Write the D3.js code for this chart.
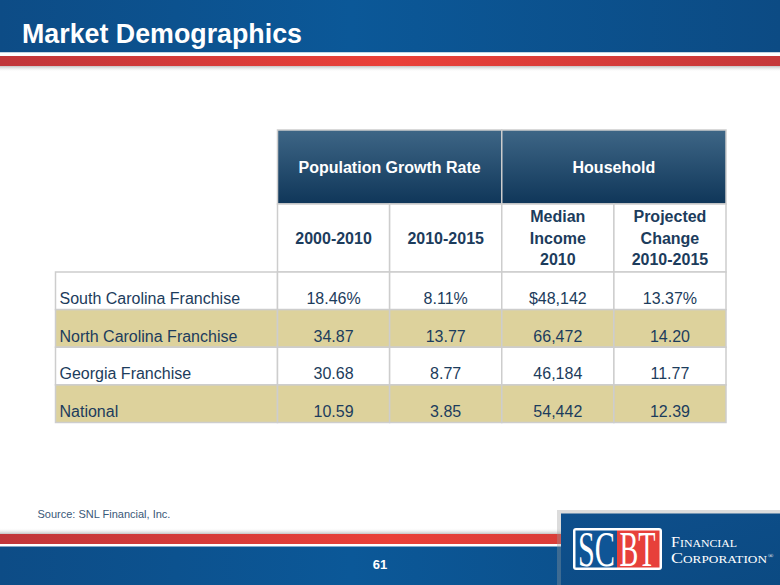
<!DOCTYPE html>
<html>
<head>
<meta charset="utf-8">
<script src="https://cdn.jsdelivr.net/npm/d3@7"></script>
<style>
  html, body { margin: 0; padding: 0; background: #ffffff; }
  svg { display: block; font-family: "Liberation Sans", Arial, sans-serif; }
</style>
</head>
<body>
<svg id="chart" width="780" height="585"></svg>
<script>
// ---------- data ----------
const title = "Market Demographics";
const rowLabels = ["South Carolina Franchise", "North Carolina Franchise", "Georgia Franchise", "National"];
const growth2000_2010 = [18.46, 34.87, 30.68, 10.59];
const growth2010_2015 = [8.11, 13.77, 8.77, 3.85];
const medianIncome2010 = [48142, 66472, 46184, 54442];
const projectedChange = [13.37, 14.20, 11.77, 12.39];
const groupHeaders = ["Population Growth Rate", "Household"];
const columnHeaders = [["2000-2010"], ["2010-2015"], ["Median", "Income", "2010"], ["Projected", "Change", "2010-2015"]];
const sourceNote = "Source:  SNL Financial, Inc.";
const pageNumber = "61";

// ---------- setup ----------
const svg = d3.select("#chart");
const W = 780, H = 585;
const defs = svg.append("defs");

function linGrad(id, x1, y1, x2, y2, stops) {
  const g = defs.append("linearGradient").attr("id", id)
    .attr("x1", x1).attr("y1", y1).attr("x2", x2).attr("y2", y2);
  stops.forEach(s => g.append("stop").attr("offset", s[0]).attr("stop-color", s[1]).attr("stop-opacity", s[2] == null ? 1 : s[2]));
}
linGrad("blueBand", "0", "0", "1", "0", [[0, "#0d4c86"], [0.45, "#0b5898"], [1, "#0c4b84"]]);
linGrad("redBand", "0", "0", "1", "0", [[0, "#c0363a"], [0.5, "#ea4038"], [1, "#c5383a"]]);
linGrad("shadowDown", "0", "0", "0", "1", [[0, "#9a9a9a", 0.6], [1, "#ffffff", 0]]);
linGrad("shadowUp", "0", "1", "0", "0", [[0, "#9a9a9a", 0.6], [1, "#ffffff", 0]]);
linGrad("headDark", "0", "0", "0", "1", [[0, "#3e6686"], [1, "#0f3659"]]);
linGrad("logoBox", "0", "0", "1", "1", [[0, "#0e4f8c"], [1, "#0b4a82"]]);

// ---------- header band ----------
svg.append("rect").attr("x", 0).attr("y", 0).attr("width", W).attr("height", 52.5).attr("fill", "url(#blueBand)");
svg.append("rect").attr("x", 0).attr("y", 52.5).attr("width", W).attr("height", 3.5).attr("fill", "#ffffff");
svg.append("rect").attr("x", 0).attr("y", 56).attr("width", W).attr("height", 10).attr("fill", "url(#redBand)");
svg.append("rect").attr("x", 0).attr("y", 66).attr("width", W).attr("height", 6).attr("fill", "url(#shadowDown)");
svg.append("text").attr("x", 22).attr("y", 43)
  .attr("font-size", 27).attr("font-weight", "bold").attr("fill", "#ffffff")
  .attr("textLength", 280).attr("lengthAdjust", "spacingAndGlyphs")
  .text(title);

// ---------- table ----------
const textColor = "#1c3c5c";
const gridColor = "#cdcdcd";
const tan = "#ddd29c";

const tableLeft = 55.5, labelRight = 277.5, tableRight = 726;
const groupTop = 130, groupBottom = 204, subBottom = 272, tableBottom = 422.5;

const colKeys = ["g1", "g2", "inc", "chg"];
const xCol = d3.scaleBand().domain(colKeys).range([labelRight, tableRight]).paddingInner(0).paddingOuter(0);
const yRow = d3.scaleBand().domain(rowLabels).range([subBottom, tableBottom]);

// group header cells
const groups = [
  { label: groupHeaders[0], x0: xCol("g1"), x1: xCol("g2") + xCol.bandwidth() },
  { label: groupHeaders[1], x0: xCol("inc"), x1: xCol("chg") + xCol.bandwidth() }
];
const gHead = svg.append("g");
gHead.selectAll("rect").data(groups).join("rect")
  .attr("x", d => d.x0).attr("y", groupTop)
  .attr("width", d => d.x1 - d.x0).attr("height", groupBottom - groupTop)
  .attr("fill", "url(#headDark)").attr("stroke", gridColor).attr("stroke-width", 1.5);
gHead.selectAll("text").data(groups).join("text")
  .attr("x", d => (d.x0 + d.x1) / 2).attr("y", 173)
  .attr("text-anchor", "middle").attr("font-size", 16).attr("font-weight", "bold")
  .attr("fill", "#ffffff").text(d => d.label);

// sub header cells
const gSub = svg.append("g");
gSub.selectAll("rect").data(colKeys).join("rect")
  .attr("x", d => xCol(d)).attr("y", groupBottom)
  .attr("width", xCol.bandwidth()).attr("height", subBottom - groupBottom)
  .attr("fill", "#ffffff").attr("stroke", gridColor).attr("stroke-width", 1.5);
const subText = gSub.selectAll("text").data(colKeys.map((k, i) => ({ k, lines: columnHeaders[i] }))).join("text")
  .attr("text-anchor", "middle").attr("font-size", 16).attr("font-weight", "bold").attr("fill", textColor);
subText.each(function (d) {
  const t = d3.select(this);
  const lh = 21.5;
  const n = d.lines.length;
  const baseY = n === 1 ? 244 : 265 - (n - 1) * lh;
  d.lines.forEach((ln, i) => {
    t.append("tspan").attr("x", xCol(d.k) + xCol.bandwidth() / 2).attr("y", baseY + i * lh).text(ln);
  });
});

// data rows
const fmtPct = d3.format(".2f");
const fmtInc = d3.format(",");
const rows = rowLabels.map((label, i) => ({
  label, i,
  cells: [
    { k: "g1", v: fmtPct(growth2000_2010[i]) + (i === 0 ? "%" : "") },
    { k: "g2", v: fmtPct(growth2010_2015[i]) + (i === 0 ? "%" : "") },
    { k: "inc", v: (i === 0 ? "$" : "") + fmtInc(medianIncome2010[i]) },
    { k: "chg", v: fmtPct(projectedChange[i]) + (i === 0 ? "%" : "") }
  ]
}));

const gRows = svg.append("g");
const rowG = gRows.selectAll("g.row").data(rows).join("g").attr("class", "row");
rowG.append("rect")
  .attr("x", tableLeft).attr("y", d => yRow(d.label))
  .attr("width", labelRight - tableLeft).attr("height", yRow.bandwidth())
  .attr("fill", d => d.i % 2 === 1 ? tan : "#ffffff")
  .attr("stroke", gridColor).attr("stroke-width", 1.5);
rowG.selectAll("rect.cell").data(d => d.cells.map(c => ({ ...c, row: d }))).join("rect")
  .attr("class", "cell")
  .attr("x", c => xCol(c.k)).attr("y", c => yRow(c.row.label))
  .attr("width", xCol.bandwidth()).attr("height", yRow.bandwidth())
  .attr("fill", c => c.row.i % 2 === 1 ? tan : "#ffffff")
  .attr("stroke", gridColor).attr("stroke-width", 1.5);
rowG.append("text")
  .attr("x", tableLeft + 4).attr("y", d => yRow(d.label) + yRow.bandwidth() - 5.5)
  .attr("font-size", 16).attr("fill", textColor).text(d => d.label);
rowG.selectAll("text.val").data(d => d.cells.map(c => ({ ...c, row: d }))).join("text")
  .attr("class", "val")
  .attr("x", c => xCol(c.k) + xCol.bandwidth() / 2)
  .attr("y", c => yRow(c.row.label) + yRow.bandwidth() - 5.5)
  .attr("text-anchor", "middle").attr("font-size", 16).attr("fill", textColor)
  .text(c => c.v);

// ---------- source ----------
svg.append("text").attr("x", 37.5).attr("y", 517.5)
  .attr("font-size", 11).attr("fill", "#3a5878").text(sourceNote);

// ---------- footer band ----------
svg.append("rect").attr("x", 0).attr("y", 528).attr("width", W).attr("height", 6).attr("fill", "url(#shadowUp)");
svg.append("rect").attr("x", 0).attr("y", 534).attr("width", W).attr("height", 10).attr("fill", "url(#redBand)");
svg.append("rect").attr("x", 0).attr("y", 544).attr("width", W).attr("height", 2.5).attr("fill", "#ffffff");
svg.append("rect").attr("x", 0).attr("y", 546.5).attr("width", W).attr("height", H - 546.5).attr("fill", "url(#blueBand)");
svg.append("text").attr("x", 380).attr("y", 568.5).attr("text-anchor", "middle")
  .attr("font-size", 13).attr("font-weight", "bold").attr("fill", "#ffffff").text(pageNumber);

// ---------- logo ----------
svg.append("rect").attr("x", 557).attr("y", 510).attr("width", W - 557).attr("height", H - 510).attr("fill", "#9a9a9a").attr("opacity", 0.35);
svg.append("rect").attr("x", 561).attr("y", 513.5).attr("width", W - 561).attr("height", H - 513.5).attr("fill", "url(#logoBox)");
svg.append("rect").attr("x", 573).attr("y", 528).attr("width", 89).attr("height", 42).attr("rx", 3)
  .attr("fill", "#ffffff");
svg.append("rect").attr("x", 575.5).attr("y", 530.5).attr("width", 41.5).attr("height", 37).attr("fill", "#0f5596");
svg.append("rect").attr("x", 617).attr("y", 530.5).attr("width", 42.5).attr("height", 37).attr("fill", "#e7403a");
svg.append("text").attr("transform", "translate(578,565.5) scale(1,1.7)")
  .attr("font-family", "'Liberation Serif', serif")
  .attr("font-size", 30).attr("fill", "#ffffff").attr("textLength", 37).attr("lengthAdjust", "spacingAndGlyphs").text("SC");
svg.append("text").attr("transform", "translate(619.5,565.5) scale(1,1.7)")
  .attr("font-family", "'Liberation Serif', serif")
  .attr("font-size", 30).attr("fill", "#ffffff").attr("textLength", 36).attr("lengthAdjust", "spacingAndGlyphs").text("BT");
svg.append("text").attr("x", 671).attr("y", 547).attr("font-family", "'Liberation Serif', serif")
  .attr("font-size", 15).attr("font-variant", "small-caps").attr("fill", "#ffffff")
  .attr("textLength", 66).attr("lengthAdjust", "spacingAndGlyphs").text("Financial");
svg.append("text").attr("x", 671).attr("y", 562.5).attr("font-family", "'Liberation Serif', serif")
  .attr("font-size", 15).attr("font-variant", "small-caps").attr("fill", "#ffffff")
  .attr("textLength", 96).attr("lengthAdjust", "spacingAndGlyphs").text("Corporation");
svg.append("text").attr("x", 768).attr("y", 558).attr("font-family", "'Liberation Serif', serif")
  .attr("font-size", 7).attr("fill", "#ffffff").text("®");
</script>
</body>
</html>
